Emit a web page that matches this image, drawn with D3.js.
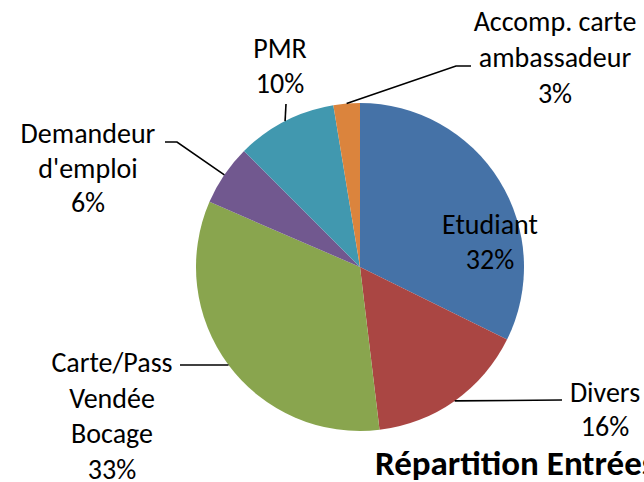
<!DOCTYPE html>
<html>
<head>
<meta charset="utf-8">
<script src="https://cdn.jsdelivr.net/npm/d3@7"></script>
<style>
    html, body { margin: 0; padding: 0; background: #fff; overflow: hidden; }
    svg { display: block; }
    text { font-family: Carlito, Calibri, Lato, sans-serif; fill: #000; }
    text.label { font-size: 28px; }
    text.title { font-size: 35px; font-weight: bold; }
    path.leader { fill: none; stroke: #000; stroke-width: 1.6; }
</style>
</head>
<body>
<svg class="chart" width="644" height="482"></svg>
<script>
// slices clockwise from 12 o'clock
var categories = ["Etudiant", "Divers", "Carte/Pass Vendée Bocage", "Demandeur d'emploi", "PMR", "Accomp. carte ambassadeur"];
var values = [32.3, 15.8, 33.4, 6.0, 9.9, 2.6];
var colors = ["#4572A7", "#AA4643", "#89A54E", "#71588F", "#4198AF", "#DB843D"];
var labelLines = [
    ["Etudiant"],
    ["Divers"],
    ["Carte/Pass", "Vendée", "Bocage"],
    ["Demandeur", "d'emploi"],
    ["PMR"],
    ["Accomp. carte", "ambassadeur"]
];
var title = "Répartition Entrées";

// where Excel put each label: text centre, first baseline, line gap, leader bend/end
var labelLayout = [
    { x: 490, y: 234, gap: 35, leader: null },
    { x: 605, y: 402, gap: 34, leader: [[562, 400]] },
    { x: 112, y: 372, gap: 35.5, leader: [[180, 365]] },
    { x: 88, y: 143, gap: 34.5, leader: [[177, 142], [165, 142]] },
    { x: 280, y: 58, gap: 35, leader: [[286, 104]] },
    { x: 555, y: 31, gap: 36, leader: [[456, 66], [471, 66]] }
];

var cx = 360, cy = 267, radius = 164;

function drawPie() {
    var svg = d3.select("svg.chart");

    var data = categories.map(function (name, i) {
        return { name: name, value: values[i], color: colors[i], lines: labelLines[i], layout: labelLayout[i] };
    });

    var pie = d3.pie()
        .sort(null)
        .value(function (d) { return d.value; });
    var arc = d3.arc()
        .innerRadius(0)
        .outerRadius(radius);
    // zero-width ring on the rim, its centroid is where leaders start
    var rimArc = d3.arc()
        .innerRadius(radius)
        .outerRadius(radius);

    var arcs = pie(data);

    var pieGroup = svg.append("g")
        .attr("transform", "translate(" + cx + "," + cy + ")");

    pieGroup.selectAll("path.slice")
        .data(arcs)
        .enter()
        .append("path")
        .classed("slice", true)
        .attr("d", arc)
        .attr("fill", function (d) { return d.data.color; });

    // leader lines
    svg.selectAll("path.leader")
        .data(arcs.filter(function (d) { return d.data.layout.leader; }))
        .enter()
        .append("path")
        .classed("leader", true)
        .attr("d", function (d) {
            var start = rimArc.centroid(d);
            var p = d3.path();
            p.moveTo(cx + start[0], cy + start[1]);
            d.data.layout.leader.forEach(function (pt) {
                p.lineTo(pt[0], pt[1]);
            });
            return p.toString();
        });

    var total = d3.sum(values);
    var labels = svg.selectAll("text.label")
        .data(arcs)
        .enter()
        .append("text")
        .classed("label", true)
        .attr("text-anchor", "middle");

    labels.each(function (d) {
        var text = d3.select(this);
        var lay = d.data.layout;
        var lines = d.data.lines.concat([Math.round(d.data.value / total * 100) + "%"]);
        lines.forEach(function (line, i) {
            text.append("tspan")
                .attr("x", lay.x)
                .attr("y", lay.y + i * lay.gap)
                .text(line);
        });
    });

    svg.append("text")
        .classed("title", true)
        .attr("x", 375)
        .attr("y", 475)
        .text(title);
}

drawPie();
</script>
</body>
</html>
